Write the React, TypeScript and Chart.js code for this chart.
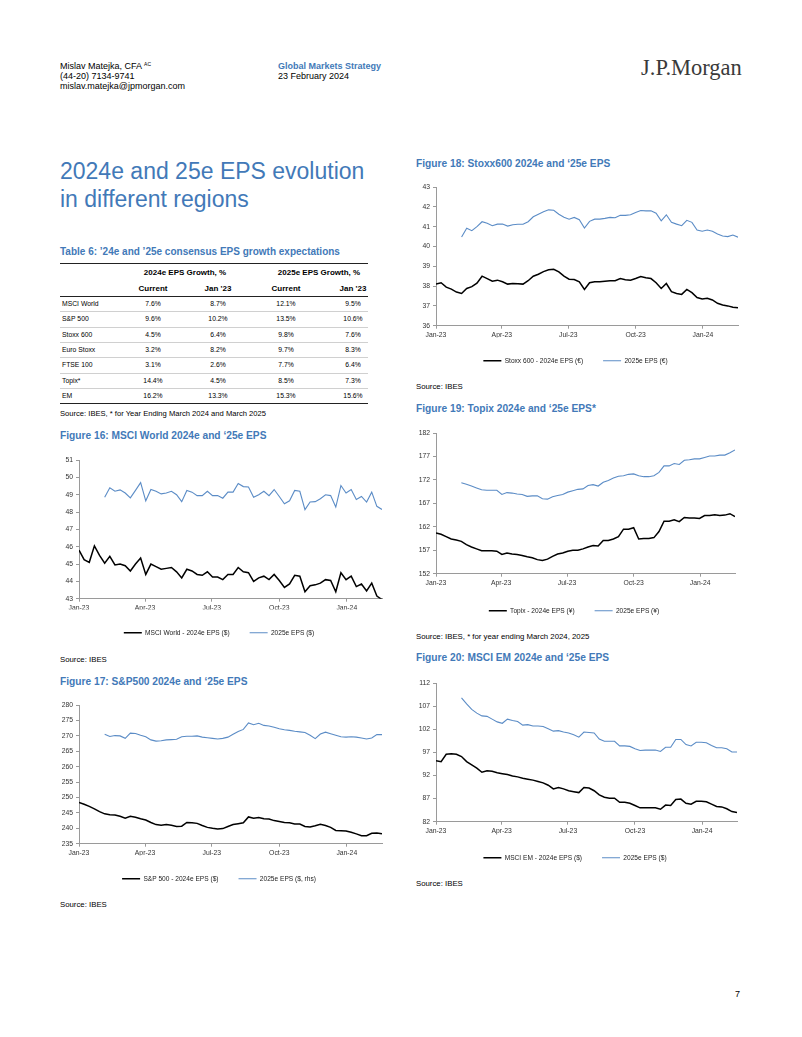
import React, { useEffect, useRef } from "react";
import { Chart, registerables } from "chart.js";

Chart.register(...registerables);

const FONT = "Arial, 'Liberation Sans', Helvetica, sans-serif";
const HEAD_BLUE = "#4279b8";
const LINE_BLUE = "#5b8cc6";
const AXIS_GREY = "#9a9a9a";

// ---- time axis (weekly observations) ----
const firstWeek = "2023-01-01";
const weekCount = 60;
const MS_DAY = 86400000;
const dayOf = (iso: string) => (Date.parse(iso) - Date.parse(firstWeek)) / MS_DAY;
const weekDates: string[] = Array.from({ length: weekCount }, (_, i) =>
  new Date(Date.parse(firstWeek) + i * 7 * MS_DAY).toISOString().slice(0, 10)
);
const quarterTickDates = ["2023-01-01", "2023-04-01", "2023-07-01", "2023-10-01", "2024-01-01"];
const quarterTickLabels = ["Jan-23", "Apr-23", "Jul-23", "Oct-23", "Jan-24"];

// ---- Table 6 ----
const tableRegions = ["MSCI World", "S&P 500", "Stoxx 600", "Euro Stoxx", "FTSE 100", "Topix*", "EM"];
const eps24Current = [7.6, 9.6, 4.5, 3.2, 3.1, 14.4, 16.2];
const eps24Jan23 = [8.7, 10.2, 6.4, 8.2, 2.6, 4.5, 13.3];
const eps25Current = [12.1, 13.5, 9.8, 9.7, 7.7, 8.5, 15.3];
const eps25Jan23 = [9.5, 10.6, 7.6, 8.3, 6.4, 7.3, 15.6];

// ---- Figure 16: MSCI World ----
const msciWorldTicks = [43, 44, 45, 46, 47, 48, 49, 50, 51];
const msciWorld24 = [
  45.8, 45.25, 45.1, 46.05, 45.5, 45.05, 45.45, 44.95, 45.0, 44.9,
  44.6, 45.0, 45.35, 44.4, 45.0, 44.85, 44.7, 44.75, 44.8, 44.55,
  44.2, 44.7, 44.6, 44.4, 44.35, 44.55, 44.25, 44.25, 44.1, 44.4,
  44.4, 44.8, 44.55, 44.5, 44.0, 44.2, 44.3, 44.1, 44.4, 44.05,
  43.65, 43.85, 44.35, 44.3, 43.4, 43.75, 43.8, 43.9, 44.1, 44.05,
  43.4, 44.5, 44.1, 44.3, 43.7, 43.85, 43.45, 43.9, 43.15, 42.95,
];
const msciWorld25 = [
  null, null, null, null, null,
  48.85, 49.4, 49.2, 49.28, 49.1, 48.82, 49.25, 49.7, 48.65, 49.3,
  49.2, 49.05, 49.1, 49.2, 49.0, 48.6, 49.25, 49.15, 48.95, 48.95,
  49.2, 48.95, 48.95, 48.8, 49.15, 49.15, 49.65, 49.47, 49.45, 48.85,
  49.0, 49.2, 48.95, 49.3, 48.9, 48.48, 48.65, 49.25, 49.2, 48.14,
  48.58, 48.6, 48.77, 49.0, 48.95, 48.29, 49.53, 49.1, 49.3, 48.73,
  48.9, 48.58, 49.15, 48.33, 48.15,
];

// ---- Figure 17: S&P 500 ----
const sp500Ticks = [235, 240, 245, 250, 255, 260, 265, 270, 275, 280];
const sp50024 = [
  248.4, 247.8, 247.1, 246.3, 245.4, 244.7, 244.4, 244.3, 243.9, 243.3,
  243.9, 243.6, 243.1, 242.7, 241.9, 241.2, 241.0, 241.2, 241.0, 240.6,
  240.7, 241.9, 241.8, 241.6, 240.9, 240.3, 240.0, 239.8, 239.9, 240.6,
  241.2, 241.5, 241.8, 243.7, 243.3, 243.5, 243.1, 243.0, 242.5, 242.2,
  241.9, 241.8, 241.4, 241.4, 240.6, 240.4, 240.8, 241.3, 240.9, 240.3,
  239.3, 239.2, 239.1, 238.7, 238.2, 237.6, 237.6, 238.4, 238.5, 238.2,
];
const sp50025 = [
  null, null, null, null, null,
  270.5, 269.8, 270.1, 270.0, 269.2, 270.9, 270.8, 270.2, 269.7, 268.7,
  268.3, 268.4, 268.7, 268.8, 268.9, 269.7, 269.9, 269.9, 270.0, 269.6,
  269.4, 269.2, 269.0, 269.2, 269.6, 270.5, 271.4, 272.1, 274.2, 273.6,
  274.1, 273.4, 273.2, 272.8, 272.3, 272.0, 271.8, 271.5, 271.3, 271.1,
  270.2, 269.1, 270.6, 271.2, 270.7, 270.2, 269.7, 269.6, 269.7, 269.6,
  269.3, 269.0, 269.3, 270.4, 270.4,
];

// ---- Figure 18: Stoxx 600 ----
const stoxxTicks = [36, 37, 38, 39, 40, 41, 42, 43];
const stoxx24 = [
  38.1, 38.17, 37.95, 37.85, 37.7, 37.63, 37.88, 37.97, 38.15, 38.5,
  38.38, 38.25, 38.3, 38.22, 38.1, 38.13, 38.12, 38.1, 38.27, 38.5,
  38.6, 38.73, 38.82, 38.85, 38.72, 38.5, 38.35, 38.33, 38.22, 37.83,
  38.17, 38.22, 38.22, 38.25, 38.27, 38.27, 38.38, 38.32, 38.3, 38.38,
  38.48, 38.42, 38.38, 38.17, 37.88, 38.13, 37.72, 37.63, 37.58, 37.83,
  37.67, 37.42, 37.35, 37.38, 37.3, 37.13, 37.05, 37.0, 36.93, 36.9,
];
const stoxx25 = [
  null, null, null, null, null,
  40.48, 40.92, 40.8, 41.0, 41.25, 41.17, 41.05, 41.13, 41.13, 41.03,
  41.1, 41.12, 41.12, 41.25, 41.5, 41.63, 41.75, 41.85, 41.83, 41.63,
  41.48, 41.38, 41.47, 41.35, 40.93, 41.27, 41.38, 41.38, 41.42, 41.47,
  41.45, 41.58, 41.57, 41.6, 41.72, 41.82, 41.8, 41.8, 41.68, 41.3,
  41.6, 41.22, 41.13, 41.05, 41.32, 41.22, 40.83, 40.77, 40.83, 40.77,
  40.63, 40.53, 40.5, 40.58, 40.47,
];

// ---- Figure 19: Topix ----
const topixTicks = [152, 157, 162, 167, 172, 177, 182];
const topix24 = [
  160.7, 160.4, 159.9, 159.4, 159.2, 158.9, 158.2, 157.7, 157.3, 156.9,
  156.9, 156.9, 156.8, 156.1, 156.4, 156.2, 156.1, 155.9, 155.6, 155.4,
  155.0, 154.8, 155.1, 155.7, 156.2, 156.4, 156.8, 157.0, 157.0, 157.3,
  157.7, 158.0, 157.9, 159.1, 159.1, 159.4, 159.9, 161.5, 161.5, 161.8,
  159.4, 159.5, 159.5, 159.7, 161.0, 163.2, 163.2, 163.5, 163.1, 164.0,
  163.9, 163.9, 163.8, 164.4, 164.4, 164.6, 164.4, 164.5, 164.8, 164.2,
];
const topix25 = [
  null, null, null, null, null,
  171.4, 171.1, 170.7, 170.3, 169.9, 169.8, 169.8, 169.8, 168.9, 169.3,
  169.2, 169.0, 168.9, 168.5, 168.6, 168.6, 168.0, 167.9, 168.4, 168.7,
  168.9, 169.4, 169.7, 170.0, 170.1, 170.8, 171.0, 170.7, 171.5, 171.9,
  172.4, 172.8, 172.9, 173.2, 173.3, 172.9, 172.7, 172.7, 172.9, 173.6,
  175.0, 175.0, 175.5, 175.3, 176.2, 176.3, 176.5, 176.5, 176.8, 177.1,
  177.1, 177.3, 177.3, 177.8, 178.4,
];

// ---- Figure 20: MSCI EM ----
const emTicks = [82, 87, 92, 97, 102, 107, 112];
const msciEm24 = [
  95.2, 95.0, 96.6, 96.7, 96.6, 96.1, 95.0, 94.3, 93.6, 92.7,
  93.0, 92.9, 92.6, 92.4, 92.2, 91.9, 91.7, 91.4, 91.2, 91.0,
  90.7, 90.4, 89.9, 89.1, 89.4, 89.1, 88.7, 88.5, 88.3, 89.4,
  89.3, 88.7, 87.8, 87.3, 87.1, 87.1, 86.2, 86.2, 86.0, 85.5,
  85.0, 85.0, 85.0, 85.0, 84.7, 85.6, 85.5, 86.8, 86.9, 86.0,
  85.8, 86.4, 86.4, 86.3, 85.8, 85.3, 85.2, 84.8, 84.2, 84.0,
];
const msciEm25 = [
  null, null, null, null, null,
  108.8, 107.5, 106.3, 105.5, 104.9, 104.8, 104.2, 103.6, 103.3, 104.2,
  103.9, 103.7, 102.9, 103.0, 102.7, 102.7, 102.6, 102.1, 101.6, 101.7,
  101.4, 101.2, 100.8, 100.3, 101.4, 101.3, 101.2, 99.9, 99.4, 99.4,
  99.4, 98.4, 98.4, 98.3, 97.8, 97.4, 97.5, 97.5, 97.5, 97.2,
  98.1, 98.1, 99.8, 99.8, 98.7, 98.4, 99.2, 99.2, 99.1, 98.5,
  98.0, 98.0, 97.8, 97.1, 97.1,
];

// ---------------------------------------------------------------
type Box = { plotLeft: number; plotRight: number; plotTop: number; plotBottom: number; legendCenter: number };

const Y_W = 23;
const PAD_T = 6;
const PAD_R = 8;
const LEG_PAD = 20;
const LEG_FONT = 6.6;
const TICK_FONT = 6.8;

function EpsChart(props: {
  box: Box;
  yTicks: number[];
  s24: (number | null)[];
  s25: (number | null)[];
  label24: string;
  label25: string;
}) {
  const { box, yTicks, s24, s25, label24, label25 } = props;
  const ref = useRef<HTMLCanvasElement>(null);
  const xH = box.legendCenter - box.plotBottom - LEG_PAD - LEG_FONT / 2;
  const legendH = LEG_FONT + LEG_PAD + 10;
  const left = box.plotLeft - Y_W;
  const top = box.plotTop - PAD_T;
  const width = Math.round(box.plotRight + PAD_R - left);
  const height = Math.round(PAD_T + (box.plotBottom - box.plotTop) + xH + legendH);

  useEffect(() => {
    const canvas = ref.current;
    if (!canvas) return;
    const toPts = (arr: (number | null)[]) => weekDates.map((d, i) => ({ x: dayOf(d), y: arr[i] }));
    const chart = new Chart(canvas, {
      type: "line",
      data: {
        datasets: [
          {
            label: label24,
            data: toPts(s24) as any,
            borderColor: "#000000",
            backgroundColor: "#000000",
            borderWidth: 1.5,
            pointRadius: 0,
            tension: 0,
            fill: false,
          },
          {
            label: label25,
            data: toPts(s25) as any,
            borderColor: LINE_BLUE,
            backgroundColor: LINE_BLUE,
            borderWidth: 1.1,
            pointRadius: 0,
            tension: 0,
            fill: false,
          },
        ],
      },
      options: {
        responsive: false,
        animation: false,
        devicePixelRatio: 1,
        layout: { padding: { top: PAD_T, right: PAD_R, left: 0, bottom: 0 } },
        plugins: {
          tooltip: { enabled: false },
          legend: {
            position: "bottom",
            align: "center",
            labels: {
              usePointStyle: true,
              pointStyle: "line",
              pointStyleWidth: 18,
              boxHeight: LEG_FONT,
              padding: LEG_PAD,
              color: "#222",
              font: { family: FONT, size: LEG_FONT },
            },
          },
        },
        scales: {
          x: {
            type: "linear",
            min: dayOf(weekDates[0]),
            max: dayOf(weekDates[weekCount - 1]),
            afterBuildTicks: (s: any) => {
              s.ticks = quarterTickDates.map((d) => ({ value: dayOf(d) }));
            },
            afterFit: (s: any) => {
              s.height = xH;
            },
            ticks: {
              autoSkip: false,
              maxRotation: 0,
              padding: 2,
              color: "#333",
              font: { family: FONT, size: TICK_FONT },
              callback: (v: any) => {
                const k = quarterTickDates.findIndex((d) => dayOf(d) === v);
                return k >= 0 ? quarterTickLabels[k] : "";
              },
            },
            grid: { drawOnChartArea: false, drawTicks: true, tickLength: 3, color: AXIS_GREY },
            border: { display: true, color: AXIS_GREY, width: 1 },
          },
          y: {
            type: "linear",
            min: yTicks[0],
            max: yTicks[yTicks.length - 1],
            afterBuildTicks: (s: any) => {
              s.ticks = yTicks.map((v) => ({ value: v }));
            },
            afterFit: (s: any) => {
              s.width = Y_W;
            },
            ticks: {
              padding: 3,
              color: "#333",
              font: { family: FONT, size: TICK_FONT },
              callback: (v: any) => String(v),
            },
            grid: { drawOnChartArea: false, drawTicks: true, tickLength: 3, color: AXIS_GREY },
            border: { display: true, color: AXIS_GREY, width: 1 },
          },
        },
      },
    });
    return () => chart.destroy();
  }, []);

  return (
    <canvas
      ref={ref}
      width={width}
      height={height}
      style={{ position: "absolute", left, top, width, height }}
    />
  );
}

function Txt(props: {
  x: number;
  y: number;
  size: number;
  lh?: number;
  bold?: boolean;
  color?: string;
  align?: "left" | "center" | "right";
  w?: number;
  family?: string;
  children: React.ReactNode;
}) {
  const lh = props.lh ?? Math.round(props.size * 1.25);
  const w = props.w;
  const left = props.align === "center" && w ? props.x - w / 2 : props.x;
  return (
    <div
      style={{
        position: "absolute",
        left,
        top: props.y - lh / 2,
        width: w,
        height: lh,
        fontSize: props.size,
        lineHeight: `${lh}px`,
        fontWeight: props.bold ? 700 : 400,
        color: props.color ?? "#000",
        textAlign: props.align ?? "left",
        whiteSpace: "nowrap",
        fontFamily: props.family ?? FONT,
      }}
    >
      {props.children}
    </div>
  );
}

function HLine({ x1, x2, y, color, h = 1 }: { x1: number; x2: number; y: number; color: string; h?: number }) {
  return <div style={{ position: "absolute", left: x1, top: y, width: x2 - x1, height: h, background: color }} />;
}

const pct = (v: number) => `${v.toFixed(1)}%`;

function Table6() {
  const colX = [153, 218, 286, 353];
  const rowTop = 296;
  const rowH = 15.3;
  const cols = [eps24Current, eps24Jan23, eps25Current, eps25Jan23];
  return (
    <>
      <Txt x={60} y={251} size={10} bold color={HEAD_BLUE}>
        Table 6: ’24e and ’25e consensus EPS growth expectations
      </Txt>
      <HLine x1={60} x2={368} y={263} color="#222" />
      <Txt x={185} y={273} size={8} bold align="center" w={120}>2024e EPS Growth, %</Txt>
      <Txt x={319} y={273} size={8} bold align="center" w={120}>2025e EPS Growth, %</Txt>
      {["Current", "Jan '23", "Current", "Jan '23"].map((t, i) => (
        <Txt key={"h" + i} x={colX[i]} y={289} size={8} bold align="center" w={60}>{t}</Txt>
      ))}
      <HLine x1={60} x2={368} y={rowTop} color="#222" />
      {tableRegions.map((name, r) => {
        const cy = rowTop + rowH * r + rowH / 2;
        return (
          <React.Fragment key={name}>
            <Txt x={62} y={cy} size={6.8}>{name}</Txt>
            {cols.map((c, i) => (
              <Txt key={i} x={colX[i]} y={cy} size={6.8} align="center" w={60}>{pct(c[r])}</Txt>
            ))}
            {r < tableRegions.length - 1 ? (
              <HLine x1={60} x2={368} y={Math.round(rowTop + rowH * (r + 1))} color="#d0d0d0" />
            ) : (
              <HLine x1={60} x2={368} y={Math.round(rowTop + rowH * (r + 1))} color="#222" />
            )}
          </React.Fragment>
        );
      })}
      <Txt x={60} y={414} size={7.6}>Source: IBES, * for Year Ending March 2024 and March 2025</Txt>
    </>
  );
}

export default function App() {
  return (
    <div
      style={{
        position: "absolute",
        left: 0,
        top: 0,
        width: 802,
        height: 1037,
        background: "#ffffff",
        overflow: "hidden",
        fontFamily: FONT,
      }}
    >
      {/* header */}
      <Txt x={60} y={66} size={9} lh={10}>
        Mislav Matejka, CFA{" "}
        <span style={{ fontSize: 5, position: "relative", top: -3 }}>AC</span>
      </Txt>
      <Txt x={60} y={76} size={9} lh={10}>(44-20) 7134-9741</Txt>
      <Txt x={60} y={86} size={9} lh={10}>mislav.matejka@jpmorgan.com</Txt>
      <Txt x={278} y={66} size={9} lh={10} bold color={HEAD_BLUE}>Global Markets Strategy</Txt>
      <Txt x={278} y={76} size={9} lh={10}>23 February 2024</Txt>
      <Txt x={641} y={68} size={22.5} lh={24} color="#3a3a3a" family="'Liberation Serif', 'Times New Roman', serif">
        J.P.Morgan
      </Txt>

      {/* title */}
      <div
        style={{
          position: "absolute",
          left: 60,
          top: 157,
          fontSize: 23,
          lineHeight: "28px",
          color: HEAD_BLUE,
          fontFamily: FONT,
        }}
      >
        2024e and 25e EPS evolution
        <br />
        in different regions
      </div>

      <Table6 />

      {/* Figure 16 */}
      <Txt x={60} y={435} size={10.2} bold color={HEAD_BLUE}>Figure 16: MSCI World 2024e and ‘25e EPS</Txt>
      <EpsChart
        box={{ plotLeft: 79, plotRight: 381.5, plotTop: 459, plotBottom: 599, legendCenter: 633 }}
        yTicks={msciWorldTicks}
        s24={msciWorld24}
        s25={msciWorld25}
        label24="MSCI World - 2024e EPS ($)"
        label25="2025e EPS ($)"
      />
      <Txt x={60} y={660} size={7.8}>Source: IBES</Txt>

      {/* Figure 17 */}
      <Txt x={60} y={681} size={10.2} bold color={HEAD_BLUE}>Figure 17: S&amp;P500 2024e and ‘25e EPS</Txt>
      <EpsChart
        box={{ plotLeft: 79, plotRight: 381.5, plotTop: 704, plotBottom: 844, legendCenter: 879 }}
        yTicks={sp500Ticks}
        s24={sp50024}
        s25={sp50025}
        label24="S&P 500 - 2024e EPS ($)"
        label25="2025e EPS ($, rhs)"
      />
      <Txt x={60} y={905} size={7.8}>Source: IBES</Txt>

      {/* Figure 18 */}
      <Txt x={416} y={163} size={10.2} bold color={HEAD_BLUE}>Figure 18: Stoxx600 2024e and ‘25e EPS</Txt>
      <EpsChart
        box={{ plotLeft: 436, plotRight: 737.5, plotTop: 186, plotBottom: 326, legendCenter: 361 }}
        yTicks={stoxxTicks}
        s24={stoxx24}
        s25={stoxx25}
        label24="Stoxx 600 - 2024e EPS (€)"
        label25="2025e EPS (€)"
      />
      <Txt x={416} y={387} size={7.8}>Source: IBES</Txt>

      {/* Figure 19 */}
      <Txt x={416} y={408} size={10.2} bold color={HEAD_BLUE}>Figure 19: Topix 2024e and ‘25e EPS*</Txt>
      <EpsChart
        box={{ plotLeft: 436, plotRight: 734.5, plotTop: 432, plotBottom: 574, legendCenter: 611 }}
        yTicks={topixTicks}
        s24={topix24}
        s25={topix25}
        label24="Topix - 2024e EPS (¥)"
        label25="2025e EPS (¥)"
      />
      <Txt x={416} y={637} size={7.8}>Source: IBES, * for year ending March 2024, 2025</Txt>

      {/* Figure 20 */}
      <Txt x={416} y={657} size={10.2} bold color={HEAD_BLUE}>Figure 20: MSCI EM 2024e and ‘25e EPS</Txt>
      <EpsChart
        box={{ plotLeft: 436, plotRight: 736.5, plotTop: 682, plotBottom: 822, legendCenter: 858 }}
        yTicks={emTicks}
        s24={msciEm24}
        s25={msciEm25}
        label24="MSCI EM - 2024e EPS ($)"
        label25="2025e EPS ($)"
      />
      <Txt x={416} y={884} size={7.8}>Source: IBES</Txt>

      {/* page number */}
      <Txt x={735} y={994} size={9}>7</Txt>
    </div>
  );
}
